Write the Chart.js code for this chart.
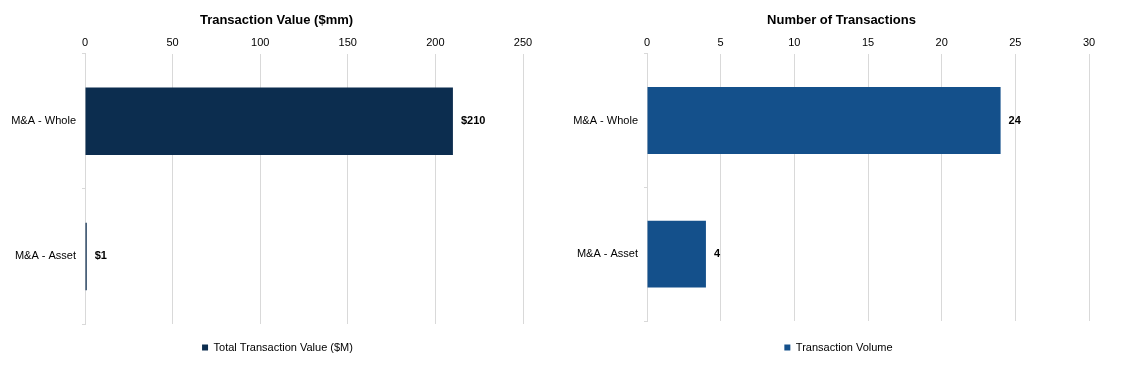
<!DOCTYPE html>
<html>
<head>
<meta charset="utf-8">
<script src="https://cdn.jsdelivr.net/npm/chart.js"></script>
<style>
  body { margin: 0; background: #fff; }
  .wrap { position: absolute; top: 0; height: 367px; }
</style>
</head>
<body>
<div class="wrap" style="left:0;width:560px"><canvas id="valueChart"></canvas></div>
<div class="wrap" style="left:560px;width:568px"><canvas id="countChart"></canvas></div>
<script>
  const categories = ['M&A - Whole', 'M&A - Asset'];
  const valueData = [210, 1];
  const countData = [24, 4];
  const valueTicks = { max: 250, step: 50 };
  const countTicks = { max: 30, step: 5 };

  Chart.defaults.font.family = '"Liberation Sans", Arial, sans-serif';
  Chart.defaults.color = '#000';

  // draw the value next to the end of each bar
  const barLabels = {
    id: 'barLabels',
    afterDatasetsDraw(chart, args, opts) {
      const ctx = chart.ctx;
      ctx.save();
      ctx.font = 'bold 11px "Liberation Sans", Arial';
      ctx.fillStyle = '#000';
      ctx.textBaseline = 'middle';
      chart.getDatasetMeta(0).data.forEach((bar, i) => {
        const v = chart.data.datasets[0].data[i];
        ctx.fillText(opts.prefix + v, bar.x + 8, bar.y);
      });
      ctx.restore();
    }
  };

  // nudge title and legend sideways so they sit centred like the original
  const nudge = {
    id: 'nudge',
    afterLayout(chart, args, opts) {
      const t = chart.titleBlock, l = chart.legend;
      if (t) { t.left += opts.title; t.right += opts.title; }
      if (l) { l.left += opts.legend; l.right += opts.legend; }
    }
  };

  function makeChart(id, title, label, data, color, ticks, prefix, padRight, yWidth, dTitle, dLegend, legendPad) {
    return new Chart(document.getElementById(id), {
      type: 'bar',
      data: {
        labels: categories,
        datasets: [{ label: label, data: data, backgroundColor: color, barPercentage: 0.5, categoryPercentage: 1 }]
      },
      plugins: [barLabels, nudge],
      options: {
        indexAxis: 'y',
        responsive: true,
        maintainAspectRatio: false,
        animation: false,
        layout: { padding: { left: 0, right: padRight, top: 3, bottom: 4 } },
        plugins: {
          barLabels: { prefix: prefix },
          nudge: { title: dTitle, legend: dLegend },
          title: { display: true, text: title, font: { size: 13, weight: 'bold', lineHeight: 0.5 }, padding: { top: 14, bottom: 9 } },
          legend: {
            position: 'bottom',
            labels: { boxWidth: 6, boxHeight: 6, font: { size: 11 }, padding: legendPad }
          },
          tooltip: { enabled: false }
        },
        scales: {
          x: {
            position: 'top',
            min: 0, max: ticks.max,
            ticks: { stepSize: ticks.step, font: { size: 11 }, padding: 4 },
            grid: { color: '#d9d9d9', drawTicks: false },
            border: { display: false }
          },
          y: {
            ticks: { font: { size: 11 }, padding: 6 },
            grid: { offset: true, drawOnChartArea: false, tickLength: 3, color: '#d9d9d9' },
            border: { color: '#d9d9d9' },
            afterFit(scale) { scale.width = yWidth; }
          }
        }
      }
    });
  }

  makeChart('valueChart', 'Transaction Value ($mm)', 'Total Transaction Value ($M)', valueData, '#0c2d4f', valueTicks, '$', 37, 85, 15, 16, 18);
  makeChart('countChart', 'Number of Transactions', 'Transaction Volume', countData, '#14508b', countTicks, '', 39, 87, 17, 14, 21);
</script>
</body>
</html>
